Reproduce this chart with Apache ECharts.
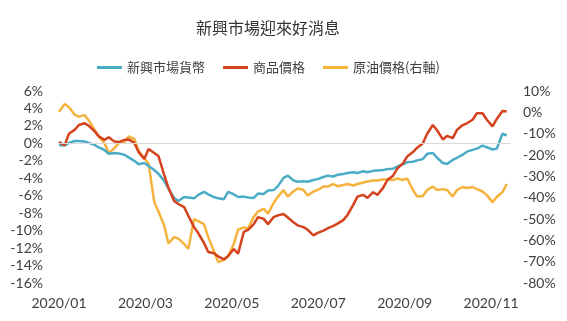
<!DOCTYPE html>
<html>
<head>
<meta charset="utf-8">
<script src="https://cdn.jsdelivr.net/npm/echarts@6/dist/echarts.min.js"></script>
<style>
html,body{margin:0;padding:0;background:#fff;}
#chart{width:567px;height:321px;}
</style>
</head>
<body>
<div id="chart"></div>
<script>
// days since 2020-01-01
var days = [0,4,7,11,14,18,21,25,28,32,35,39,42,46,49,53,56,60,63,67,70,74,77,81,84,88,91,95,98,102,105,109,112,116,119,123,126,130,133,137,140,144,147,151,154,158,161,165,168,172,175,179,182,186,189,193,196,200,203,207,210,214,217,221,224,228,231,235,238,242,245,249,252,256,259,263,266,270,273,277,280,284,287,291,294,298,301,305,308,312,315];

// 新興市場貨幣 (left axis, %)
var emCurrency = [-0.18,-0.24,0.05,0.27,0.27,0.22,0.05,-0.18,-0.47,-0.76,
  -1.2,-1.1,-1.15,-1.3,-1.6,-2.0,-2.4,-2.25,-2.6,-3.05,
  -3.5,-4.3,-5.2,-6.25,-6.6,-6.15,-6.2,-6.3,-5.9,-5.55,
  -5.85,-6.15,-6.3,-6.4,-5.55,-5.85,-6.15,-6.1,-6.2,-6.25,
  -5.75,-5.8,-5.4,-5.35,-4.9,-3.95,-3.7,-4.25,-4.4,-4.35,
  -4.4,-4.2,-4.1,-3.85,-3.7,-3.8,-3.6,-3.5,-3.4,-3.3,
  -3.4,-3.2,-3.3,-3.15,-3.1,-3.05,-2.95,-2.9,-2.65,-2.4,
  -2.15,-2.1,-1.95,-1.8,-1.2,-1.1,-1.65,-2.25,-2.35,-1.9,
  -1.65,-1.3,-0.95,-0.75,-0.6,-0.25,-0.45,-0.7,-0.6,1.1,0.9];

// 商品價格 (left axis, %)
var commodity = [0.15,-0.2,1.1,1.55,2.1,2.3,2.0,1.4,0.8,0.4,
  0.7,0.2,0.15,0.4,0.45,0.05,-1.0,-1.8,-0.65,-1.1,
  -1.45,-3.6,-5.1,-6.6,-6.95,-7.3,-8.3,-9.6,-10.3,-11.4,
  -12.45,-12.6,-12.95,-13.3,-12.9,-12.1,-12.65,-10.15,-9.9,-9.25,
  -8.45,-8.65,-9.25,-8.45,-8.25,-8.1,-8.5,-9.05,-9.4,-9.6,
  -9.9,-10.55,-10.25,-10.0,-9.75,-9.45,-9.2,-8.8,-8.2,-7.05,
  -6.1,-5.9,-6.25,-5.6,-5.9,-5.1,-4.2,-3.7,-2.9,-2.3,
  -1.5,-1.0,-0.5,0.0,1.1,2.1,1.5,0.45,0.85,0.6,
  1.55,2.1,2.3,2.7,3.45,3.45,2.7,1.95,2.8,3.7,3.65];

// 原油價格 (right axis, %)
var crudeOil = [0.3,3.9,2.5,-1.1,-2.0,-1.3,-3.8,-8.2,-11.3,-14.5,
  -19.0,-16.8,-14.5,-14.0,-11.3,-12.5,-18.0,-21.5,-24.0,-42.0,
  -46.5,-53.0,-61.5,-58.5,-59.2,-61.7,-64.0,-50.0,-51.0,-52.4,
  -58.5,-65.0,-70.2,-69.2,-67.4,-61.7,-55.0,-54.0,-54.5,-49.0,
  -46.5,-45.2,-47.5,-42.5,-39.5,-36.5,-39.5,-37.0,-35.7,-36.4,
  -39.0,-37.1,-36.4,-34.8,-34.8,-33.6,-34.6,-34.1,-33.6,-34.3,
  -33.6,-32.9,-32.4,-32.0,-32.0,-31.5,-31.5,-31.7,-31.0,-31.7,
  -31.0,-36.4,-39.5,-39.2,-36.4,-34.8,-36.4,-36.0,-36.4,-39.5,
  -36.4,-35.0,-35.5,-35.0,-36.0,-37.1,-38.8,-42.1,-39.7,-37.4,-33.6];

var seriesNames = ['新興市場貨幣','商品價格','原油價格(右軸)'];
var monthLabels = ['2020/01','2020/03','2020/05','2020/07','2020/09','2020/11'];
var monthStep = 60.8;

function pairs(vals){ return vals.map(function(v,i){ return [days[i], v]; }); }

var chart = echarts.init(document.getElementById('chart'), null, {renderer:'canvas'});
var axisFont = {fontFamily:'Lato, "Noto Sans CJK TC", sans-serif', fontSize:14, color:'#404040'};
chart.setOption({
  animation:false,
  backgroundColor:'#ffffff',
  title:{
    text:'新興市場迎來好消息',
    left:191, top:15,
    textStyle:{fontFamily:'"Noto Sans CJK TC", sans-serif', fontSize:16, fontWeight:'normal', color:'#333333'}
  },
  legend:{
    data:seriesNames,
    left:92, top:56,
    icon:'rect', itemWidth:25, itemHeight:3, itemGap:18,
    textStyle:{fontFamily:'"Noto Sans CJK TC", sans-serif', fontSize:13, color:'#404040'}
  },
  grid:{left:59, right:56, top:91, bottom:38, containLabel:false},
  xAxis:{
    type:'value', min:0, max:318, interval:monthStep,
    axisLine:{show:false}, axisTick:{show:false}, splitLine:{show:false},
    axisLabel:Object.assign({
      margin:13, showMaxLabel:false,
      formatter:function(v){
        var i = Math.round(v/monthStep);
        if (Math.abs(v - i*monthStep) < 0.5 && i < monthLabels.length) return monthLabels[i];
        return '';
      }
    }, axisFont)
  },
  yAxis:[{
    type:'value', min:-16, max:6, interval:2,
    axisLine:{show:false}, axisTick:{show:false}, splitLine:{show:false},
    axisLabel:Object.assign({margin:16, formatter:'{value}%'}, axisFont)
  },{
    type:'value', min:-80, max:10, interval:10,
    axisLine:{show:false}, axisTick:{show:false}, splitLine:{show:false},
    axisLabel:Object.assign({margin:12, formatter:'{value}%'}, axisFont)
  }],
  series:[{
    name:seriesNames[0], type:'line', yAxisIndex:0, data:pairs(emCurrency),
    symbol:'none', smooth:false, color:'#4BACC6',
    lineStyle:{width:2.5, color:'#4BACC6'},
    markLine:{silent:true, symbol:'none', label:{show:false},
      lineStyle:{color:'#d9d9d9', width:1, type:'solid'},
      data:[{yAxis:0}]},
    z:3
  },{
    name:seriesNames[1], type:'line', yAxisIndex:0, data:pairs(commodity),
    symbol:'none', smooth:false, color:'#D5421E',
    lineStyle:{width:2.5, color:'#D5421E'}, z:4
  },{
    name:seriesNames[2], type:'line', yAxisIndex:1, data:pairs(crudeOil),
    symbol:'none', smooth:false, color:'#F5B33E',
    lineStyle:{width:2.5, color:'#F5B33E'}, z:2
  }]
});
</script>
</body>
</html>
